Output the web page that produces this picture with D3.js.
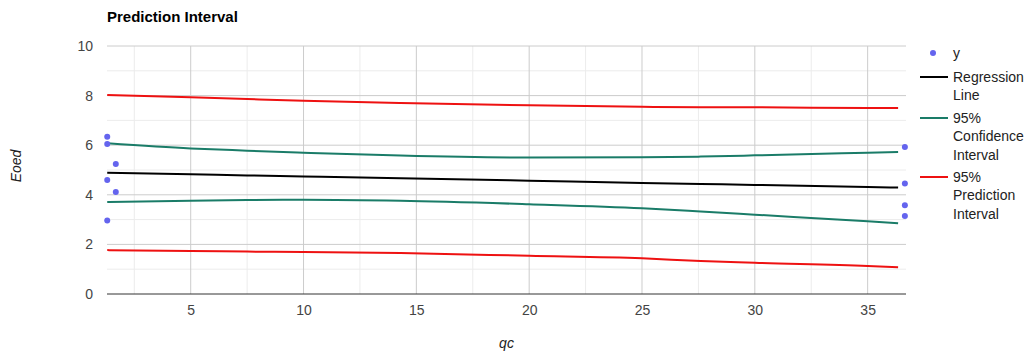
<!DOCTYPE html>
<html><head><meta charset="utf-8">
<script src="https://cdn.jsdelivr.net/npm/d3@7"></script>
<style>body{margin:0;background:#fff;}svg{display:block;font-family:"Liberation Sans",Arial,sans-serif;}</style>
</head><body><svg id="c" width="1027" height="353"></svg>
<script>
// data
const pointQc = [1.3, 1.3, 1.3, 1.3, 1.68, 1.68, 36.65, 36.65, 36.65, 36.65];
const pointY  = [6.34, 6.05, 4.60, 2.96, 5.24, 4.11, 5.93, 4.46, 3.58, 3.15];
const lineQc     = [1.3, 5, 7.5, 10, 14.3, 20, 25, 27.6, 30, 35, 36.35];
const regression = [4.89, 4.83, 4.78, 4.74, 4.67, 4.57, 4.48, 4.44, 4.40, 4.31, 4.29];
const upperCI    = [6.08, 5.87, 5.78, 5.70, 5.58, 5.50, 5.51, 5.54, 5.59, 5.70, 5.73];
const lowerCI    = [3.71, 3.76, 3.79, 3.80, 3.76, 3.62, 3.46, 3.33, 3.20, 2.93, 2.85];
const upperPI    = [8.02, 7.93, 7.86, 7.79, 7.70, 7.61, 7.55, 7.53, 7.53, 7.50, 7.50];
const lowerPI    = [1.77, 1.73, 1.71, 1.69, 1.65, 1.54, 1.44, 1.33, 1.26, 1.13, 1.08];
const xTicks = [5, 10, 15, 20, 25, 30, 35];
const xMinor = [2.5, 7.5, 12.5, 17.5, 22.5, 27.5, 32.5];
const yTicks = [0, 2, 4, 6, 8, 10];
const yMinor = [1, 3, 5, 7, 9];

const svg = d3.select("#c");
const L = 107, R = 906, T = 46, B = 294;
const x = d3.scaleLinear().domain([1.29, 36.7]).range([L, R]);
const y = d3.scaleLinear().domain([0, 10]).range([B, T]);

// grid
const g = svg.append("g");
g.selectAll(".ym").data(yMinor).join("line").attr("x1", L).attr("x2", R)
  .attr("y1", d => y(d)).attr("y2", d => y(d)).attr("stroke", "#ececec");
g.selectAll(".xm").data(xMinor).join("line").attr("y1", T).attr("y2", B)
  .attr("x1", d => x(d)).attr("x2", d => x(d)).attr("stroke", "#ececec");
g.selectAll(".yM").data(yTicks.filter(d => d > 0)).join("line").attr("x1", L).attr("x2", R)
  .attr("y1", d => y(d)).attr("y2", d => y(d)).attr("stroke", "#cccccc");
g.selectAll(".xM").data(xTicks).join("line").attr("y1", T).attr("y2", B)
  .attr("x1", d => x(d)).attr("x2", d => x(d)).attr("stroke", "#cccccc");
g.append("line").attr("x1", L).attr("x2", R).attr("y1", y(0)).attr("y2", y(0)).attr("stroke", "#333").attr("stroke-width", 1);

// axes labels
const yAxis = d3.axisLeft(y).tickValues(yTicks).tickSize(0).tickPadding(14);
const ya = svg.append("g").attr("transform", `translate(${L},0)`).call(yAxis);
ya.select(".domain").remove();
ya.selectAll("text").attr("font-size", 14).attr("fill", "#444").attr("font-family", "Liberation Sans, Arial, sans-serif");
const xAxis = d3.axisBottom(x).tickValues(xTicks).tickSize(0).tickPadding(11);
const xa = svg.append("g").attr("transform", `translate(0,${B})`).call(xAxis);
xa.select(".domain").remove();
xa.selectAll("text").attr("font-size", 14).attr("fill", "#444").attr("font-family", "Liberation Sans, Arial, sans-serif");

// lines
const series = [
  {vals: upperPI, color: "#ee1111"},
  {vals: lowerPI, color: "#ee1111"},
  {vals: upperCI, color: "#1a7c68"},
  {vals: lowerCI, color: "#1a7c68"},
  {vals: regression, color: "#000000"}
];
const line = d3.line().x((d, i) => x(lineQc[i])).y(d => y(d)).curve(d3.curveMonotoneX);
series.forEach(s => {
  svg.append("path").attr("d", line(s.vals)).attr("fill", "none")
    .attr("stroke", s.color).attr("stroke-width", 2);
});

// points
svg.selectAll(".pt").data(pointY).join("circle")
  .attr("cx", (d, i) => x(pointQc[i])).attr("cy", d => y(d)).attr("r", 3)
  .attr("fill", "#6464ee");

// title
svg.append("text").attr("x", L).attr("y", 22).attr("font-size", 15).attr("font-weight", "bold")
  .attr("fill", "#000").text("Prediction Interval");
// axis titles
svg.append("text").attr("transform", "translate(21,166) rotate(-90)").attr("text-anchor", "middle")
  .attr("font-size", 14).attr("font-style", "italic").attr("fill", "#222").text("Eoed");
svg.append("text").attr("x", (L + R) / 2).attr("y", 348).attr("text-anchor", "middle")
  .attr("font-size", 14).attr("font-style", "italic").attr("fill", "#222").text("qc");

// legend
const legend = [
  {type: "dot", color: "#6464ee", lines: ["y"], y: 53},
  {type: "line", color: "#000000", lines: ["Regression", "Line"], y: 77},
  {type: "line", color: "#1a7c68", lines: ["95%", "Confidence", "Interval"], y: 118},
  {type: "line", color: "#ee1111", lines: ["95%", "Prediction", "Interval"], y: 177}
];
legend.forEach(it => {
  if (it.type === "dot") {
    svg.append("circle").attr("cx", 933).attr("cy", it.y).attr("r", 3).attr("fill", it.color);
  } else {
    svg.append("line").attr("x1", 920).attr("x2", 948).attr("y1", it.y).attr("y2", it.y)
      .attr("stroke", it.color).attr("stroke-width", 2);
  }
  it.lines.forEach((t, k) => {
    svg.append("text").attr("x", 953).attr("y", it.y + k * 18.5).attr("dy", "0.35em")
      .attr("font-size", 14).attr("fill", "#222").text(t);
  });
});
</script></body></html>
